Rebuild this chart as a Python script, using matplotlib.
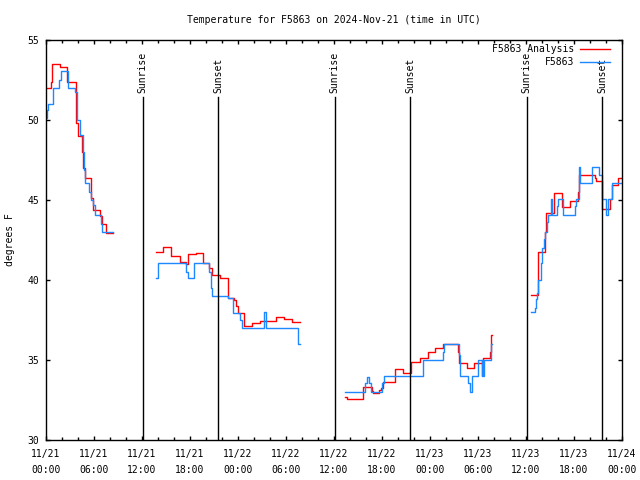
import numpy as np
import matplotlib
matplotlib.use("Agg")
import matplotlib.pyplot as plt

# hours after 11/21 00:00 UTC, steps drawn like gnuplot "steps"
nan = np.nan

analysis_hours = [
    0.0, 0.6, 0.8, 1.75, 2.66, 3.7, 3.95, 4.5, 4.65, 4.9, 5.65, 5.85, 6.7, 7.0, 7.55, 8.4, nan,
    13.75, 14.66, 15.6, 16.75, 17.5, 17.7, 18.7, 19.65, 20.37, 20.8, 21.75, 22.8, 23.5, 23.7,
    23.95, 24.8, 25.8, 26.75, 28.7, 29.75, 30.7, 31.75, nan,
    37.4, 37.65, 39.66, 40.7, 40.9, 41.65, 41.9, 42.16, 43.6, 44.66, 45.6, 46.75, 47.8, 48.6,
    49.66, 51.55, 51.66, 52.66, 53.54, 54.66, 55.5, 55.6, 55.7, nan,
    60.63, 61.54, 62.375, 62.5, 63.5, 64.54, 65.5, 66.46, 66.63, 68.58, 68.75, 69.54, 70.5,
    70.75, 71.54, 72.0,
]
analysis_temps = [
    52.0, 52.4, 53.5, 53.3, 52.4, 49.8, 49.0, 48.0, 47.0, 46.35, 45.1, 44.4, 44.0, 43.5, 42.95, 42.95, nan,
    41.73, 42.08, 41.52, 41.15, 41.0, 41.6, 41.67, 41.04, 40.77, 40.3, 40.15, 38.9, 38.75, 38.4,
    37.96, 37.13, 37.3, 37.44, 37.67, 37.56, 37.35, 37.35, nan,
    32.67, 32.54, 33.3, 33.06, 32.92, 33.1, 33.23, 33.65, 34.42, 34.17, 34.86, 35.1, 35.52, 35.73,
    35.98, 35.5, 34.8, 34.48, 34.8, 35.1, 35.5, 36.56, 36.56, nan,
    39.04, 41.73, 43.0, 44.17, 45.42, 44.54, 44.96, 45.52, 46.56, 46.35, 46.19, 44.42, 45.04,
    45.94, 46.35, 46.35,
]

station_hours = [
    0.0, 0.15, 0.3, 0.9, 1.66, 1.84, 2.8, 3.6, 3.9, 4.2, 4.6, 4.75, 4.9, 5.4, 5.6, 5.9, 6.1,
    6.9, 7.05, 8.4, nan,
    13.75, 14.0, 17.5, 17.8, 18.5, 20.4, 20.6, 20.75, 22.8, 23.4, 24.3, 24.5, 27.3, 27.45,
    31.55, 31.75, nan,
    37.4, 39.9, 40.1, 40.4, 40.6, 41.95, 42.2, 47.15, 49.65, 49.8, 51.66, 51.8, 52.7, 53.0,
    53.2, 54.04, 54.45, 54.55, 54.6, 54.7, 55.6, 55.7, nan,
    60.63, 61.1, 61.25, 61.4, 61.54, 61.83, 62.04, 62.25, 62.42, 62.58, 62.79, 63.08, 63.2,
    63.9, 64.04, 64.67, 66.1, 66.25, 66.63, 66.75, 68.25, 69.17, 69.5, 70.0, 70.3, 70.75, 72.0,
]
station_temps = [
    50.1, 50.6, 51.0, 52.0, 52.5, 53.05, 52.0, 51.75, 50.0, 49.05, 48.0, 46.9, 46.05, 45.5,
    45.0, 44.7, 44.05, 43.5, 43.0, 43.0, nan,
    40.1, 41.04, 40.5, 40.1, 41.04, 40.5, 39.5, 39.0, 38.9, 37.96, 37.5, 37.0, 38.0, 37.0,
    36.0, 36.0, nan,
    32.98, 33.54, 33.96, 33.54, 33.0, 33.54, 34.0, 35.0, 35.5, 35.98, 35.3, 34.0, 33.54, 33.02,
    34.0, 35.0, 34.0, 35.0, 34.0, 35.0, 36.0, 36.0, nan,
    37.98, 38.25, 38.8, 39.17, 40.0, 41.04, 41.98, 42.54, 43.02, 43.6, 44.04, 45.04, 44.04,
    44.6, 45.04, 44.04, 44.6, 45.04, 47.04, 46.04, 47.04, 46.56, 45.04, 44.06, 45.04, 46.04, 46.04,
]

sun_hours = [12.07, 21.55, 36.08, 45.54, 60.1, 69.53]
sun_labels = ["Sunrise", "Sunset", "Sunrise", "Sunset", "Sunrise", "Sunset"]

tick_hours = list(range(0, 73, 6))
tick_labels = ["11/21\n00:00", "11/21\n06:00", "11/21\n12:00", "11/21\n18:00",
               "11/22\n00:00", "11/22\n06:00", "11/22\n12:00", "11/22\n18:00",
               "11/23\n00:00", "11/23\n06:00", "11/23\n12:00", "11/23\n18:00",
               "11/24\n00:00"]

plt.rcParams['font.family'] = ['DejaVu Sans Mono']
plt.rcParams['font.size'] = 7

fig = plt.figure(figsize=(6.4, 4.8), dpi=100)
ax = fig.add_axes([46 / 640, 40 / 480, 576 / 640, 400 / 480])

ax.plot(analysis_hours, analysis_temps, drawstyle='steps-post', color='#ff0000', lw=1.0,
        label='F5863 Analysis')
ax.plot(station_hours, station_temps, drawstyle='steps-post', color='#1e88ff', lw=1.0,
        label='F5863')

for h, lab in zip(sun_hours, sun_labels):
    ax.axvline(h, ymin=0, ymax=0.8575, color='black', lw=1.0)
    ax.text(h, 0.867, lab, rotation=90, ha='center', va='bottom',
            transform=ax.get_xaxis_transform())

ax.set_xlim(0, 72)
ax.set_ylim(30, 55)
ax.set_xticks(tick_hours)
ax.set_xticklabels(tick_labels, linespacing=1.7)
ax.set_xticks(range(0, 73, 2), minor=True)
ax.set_yticks(range(30, 56, 5))
ax.tick_params(which='both', direction='in', top=True, right=True, width=1)
ax.tick_params(which='major', length=3, pad=5)
ax.tick_params(axis='x', which='major', pad=6.5)
ax.tick_params(which='minor', length=2)
for s in ax.spines.values():
    s.set_linewidth(1)

fig.text(334 / 640, 1 - 20 / 480, "Temperature for F5863 on 2024-Nov-21 (time in UTC)",
         ha='center', va='center')
fig.text(10 / 640, 0.5, "degrees F", rotation=90, ha='center', va='center')

ax.legend(loc='upper right', bbox_to_anchor=((610 - 46) / 576, 0.99), frameon=False,
          markerfirst=False, borderpad=0, borderaxespad=0, handlelength=3.1,
          handletextpad=0.6, labelspacing=0.3, fontsize=7)

fig.savefig('out.png', dpi=100)
